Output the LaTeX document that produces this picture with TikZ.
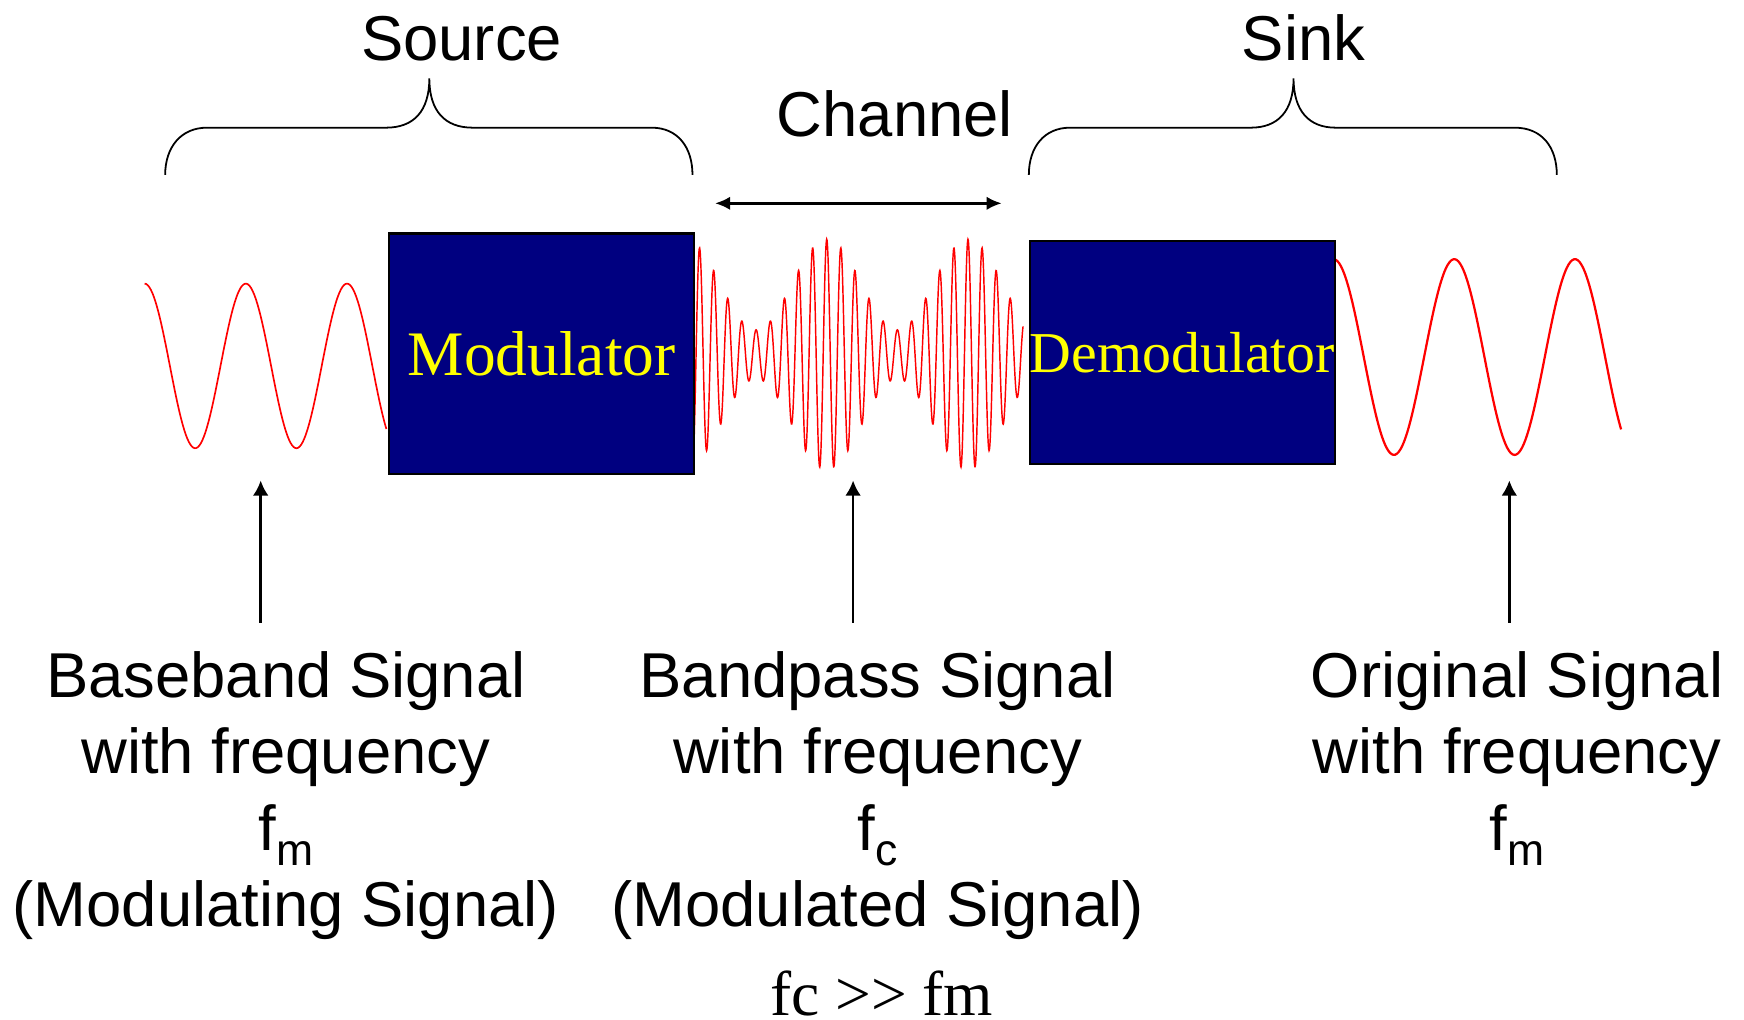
\documentclass[tikz,border=0pt]{standalone}
\usepackage{fontspec}
\setmainfont{Liberation Sans}
\newfontfamily\timesfont{Liberation Serif}
\usetikzlibrary{arrows.meta}
\newcommand\fsub[1]{\raisebox{-14pt}{\fontsize{40}{40}\selectfont #1}}
\begin{document}
\begin{tikzpicture}[x=1pt,y=-1pt,
  lbl/.style={font=\fontsize{57}{68.7}\selectfont, inner sep=0pt, align=center},
  blk/.style={draw=black, line width=2pt, fill={rgb,255:red,0;green,0;blue,128}, inner sep=0pt,
              text={rgb,255:red,255;green,255;blue,0}},
  sig/.style={draw={rgb,255:red,255;green,0;blue,0}, line width=1.5pt},
  brc/.style={draw=black, line width=1.6pt},
  arr/.style={draw=black, line width=2.2pt, -{Latex[length=13.5pt,width=14pt]}},
  darr/.style={draw=black, line width=2.2pt, {Latex[length=13.5pt,width=12pt]}-{Latex[length=13.5pt,width=12pt]}},
]
\useasboundingbox (0,0) rectangle (1568,917);

% signals
\draw[sig] plot[domain=130:347.4, samples=160, smooth] (\x, {329-74*cos((\x-130)/91*360)});
\draw[sig, line width=1.3pt] plot[domain=623.4:919.8, samples=1000]
  (\x, {318.5-(62.7+40.7*cos((\x-743.3)/127*360))*cos((\x-743.3)/12.7*360)});
\draw[sig, line width=2pt] plot[domain=1199:1457.5, samples=160, smooth] (\x, {321-88*cos((\x-1199)/108.5*360)});

% boxes
\node[blk, anchor=north west, minimum width=274pt, minimum height=216pt,
      font=\timesfont\fontsize{57}{57}\selectfont] (mod) at (349,209) {Modulator};
\node[blk, anchor=north west, minimum width=274pt, minimum height=201pt,
      font=\timesfont\fontsize{52}{52}\selectfont] (demod) at (925,215.5) {Demodulator};

% braces
\draw[brc] (148.5,157.3) .. controls (148.5,132) and (163,114.8) .. (186,114.8) -- (347,114.8)
  .. controls (372,114.8) and (386,100) .. (386,70.4)
  .. controls (386,100) and (400,114.8) .. (425,114.8) -- (586,114.8)
  .. controls (609,114.8) and (622.6,132) .. (622.6,157.3);
\draw[brc] (925,157.3) .. controls (925,132) and (939,114.8) .. (962,114.8) -- (1124.5,114.8)
  .. controls (1149,114.8) and (1163,100) .. (1163,70.4)
  .. controls (1163,100) and (1177,114.8) .. (1201,114.8) -- (1362,114.8)
  .. controls (1386,114.8) and (1399.7,132) .. (1399.7,157.3);

% top labels
\node[lbl, anchor=base] (src) at (415,54) {Source};
\node[lbl, anchor=base] (sink) at (1172,54) {Sink};
\node[lbl, anchor=base] (chan) at (804.7,122.9) {Channel};

% channel arrow
\coordinate (chl) at (642.9,182.8);
\coordinate (chr) at (900.6,182.8);
\draw[darr] (chl) -- (chr);

% vertical arrows
\coordinate (a1s) at (234.4,560); \coordinate (a1e) at (234.4,432);
\coordinate (a2s) at (767,560);   \coordinate (a2e) at (767,432);
\coordinate (a3s) at (1357,560);  \coordinate (a3e) at (1357,432);
\draw[arr] (a1s) -- (a1e);
\draw[arr] (a2s) -- (a2e);
\draw[arr] (a3s) -- (a3e);

% bottom labels (base anchor = baseline of the last line)
\node[lbl, anchor=base] (bb) at (257,833.1) {Baseband Signal\\with frequency\\f\fsub{m}\\(Modulating Signal)};
\node[lbl, anchor=base] (bp) at (789,833.1) {Bandpass Signal\\with frequency\\f\fsub{c}\\(Modulated Signal)};
\node[lbl, anchor=base] (og) at (1364,764.4) {Original Signal\\with frequency\\f\fsub{m}};
\node[font=\timesfont\fontsize{57}{57}\selectfont, inner sep=0pt, text depth=0pt, anchor=base] (rel) at (792.7,913) {fc >\kern0pt> fm};
\end{tikzpicture}
\end{document}
